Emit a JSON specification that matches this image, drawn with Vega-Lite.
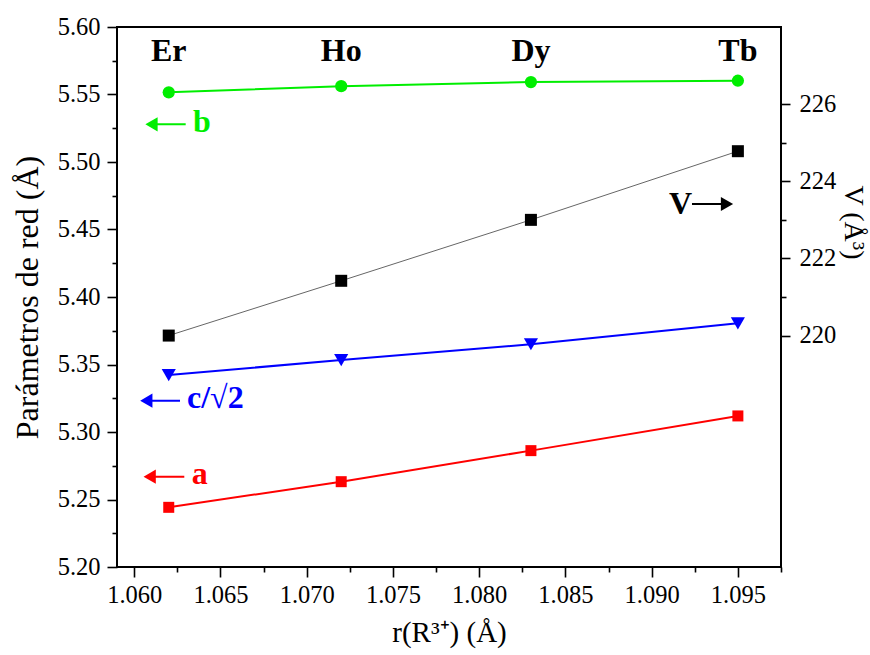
{
  "$schema": "https://vega.github.io/schema/vega-lite/v6.json",
  "autosize": "none",
  "width": 664,
  "height": 540,
  "padding": {"left": 117, "top": 27, "right": 89, "bottom": 88},
  "background": "white",
  "config": {
    "view": {"stroke": "black", "strokeWidth": 2},
    "style": {"guide-label": {"font": "Liberation Serif", "fontSize": 24.5, "fill": "black"}, "guide-title": {"font": "Liberation Serif", "fontWeight": "normal", "fill": "black"}},
    "axis": {
      "domain": false,
      "grid": false,
      "tickColor": "black",
      "tickWidth": 1.6,
      "labelFont": "Liberation Serif",
      "labelFontSize": 24.5,
      "labelColor": "black",
      "labelFlush": false,
      "labelOverlap": false,
      "labelBound": false,
      "titleFont": "Liberation Serif",
      "titleFontSize": 29,
      "titleFontWeight": "normal",
      "titleColor": "black"
    }
  },
  "datasets": {
    "lattice": [
      {"ion": "Er", "r": 1.062, "a": 5.2442, "b": 5.5516, "c": 5.3422, "V": 220.0},
      {"ion": "Ho", "r": 1.072, "a": 5.2632, "b": 5.5562, "c": 5.3533, "V": 221.42},
      {"ion": "Dy", "r": 1.083, "a": 5.2862, "b": 5.5592, "c": 5.3650, "V": 223.0},
      {"ion": "Tb", "r": 1.095, "a": 5.3119, "b": 5.5602, "c": 5.3805, "V": 224.78}
    ],
    "arrows": [
      {"name": "b", "label": "b", "x_tail": 1.062983, "x_head": 1.061000, "y": 5.5279, "xl": 1.063407, "yl": 5.5222},
      {"name": "c", "label": "c/√2", "x_tail": 1.062653, "x_head": 1.060699, "y": 5.3232, "xl": 1.063059, "yl": 5.3178},
      {"name": "a", "label": "a", "x_tail": 1.062902, "x_head": 1.060896, "y": 5.2669, "xl": 1.063331, "yl": 5.2615},
      {"name": "V", "label": "V", "x_tail": 1.092339, "x_head": 1.094369, "y": 5.4689, "xl": 1.091006, "yl": 5.4617}
    ]
  },
  "layer": [
    {
      "data": {"name": "lattice"},
      "mark": {"type": "line", "color": "#ff0000", "strokeWidth": 2},
      "encoding": {
        "x": {"field": "r", "type": "quantitative",
              "scale": {"domain": [1.059, 1.0975], "nice": false, "zero": false},
              "axis": {"orient": "bottom", "values": [1.06, 1.065, 1.07, 1.075, 1.08, 1.085, 1.09, 1.095], "format": ".3f", "tickSize": 10, "labelPadding": 6, "labelFont": "Liberation Serif", "labelFontSize": 24.5, "title": "r(R³⁺) (Å)", "titleFont": "Liberation Serif", "titleFontSize": 29, "titlePadding": 12}},
        "y": {"field": "a", "type": "quantitative",
              "scale": {"domain": [5.2, 5.6], "nice": false, "zero": false},
              "axis": {"orient": "left", "values": [5.2, 5.25, 5.3, 5.35, 5.4, 5.45, 5.5, 5.55, 5.6], "format": ".2f", "tickSize": 10, "labelPadding": 7, "labelFont": "Liberation Serif", "labelFontSize": 24.5, "title": "Parámetros de red (Å)", "titleFont": "Liberation Serif", "titleFontSize": 32, "titlePadding": 13}}
      }
    },
    {
      "data": {"name": "lattice"},
      "mark": {"type": "point", "opacity": 0},
      "encoding": {
        "x": {"field": "r", "type": "quantitative",
              "axis": {"orient": "bottom", "values": [1.0625, 1.0675, 1.0725, 1.0775, 1.0825, 1.0875, 1.0925, 1.0975], "labels": false, "tickSize": 5, "title": null}},
        "y": {"field": "a", "type": "quantitative",
              "scale": {"domain": [5.2, 5.6], "nice": false, "zero": false},
              "axis": {"orient": "left", "values": [5.225, 5.275, 5.325, 5.375, 5.425, 5.475, 5.525, 5.575], "labels": false, "tickSize": 5, "title": null}}
      }
    },
    {
      "data": {"name": "lattice"},
      "mark": {"type": "line", "color": "#666666", "strokeWidth": 1},
      "encoding": {
        "x": {"field": "r", "type": "quantitative", "axis": null},
        "y": {"field": "V", "type": "quantitative",
              "scale": {"domain": [214, 228], "nice": false, "zero": false},
              "axis": {"orient": "right", "values": [220, 222, 224, 226], "format": "d", "tickSize": 9, "labelPadding": 9, "labelFont": "Liberation Serif", "labelFontSize": 24.5, "title": "V (Å³)", "titleFont": "Liberation Serif", "titleFontSize": 28, "titleAngle": 90, "titlePadding": 3, "titleY": 195}}
      }
    },
    {
      "data": {"name": "lattice"},
      "mark": {"type": "point", "opacity": 0},
      "encoding": {
        "x": {"field": "r", "type": "quantitative", "axis": null},
        "y": {"field": "V", "type": "quantitative",
              "scale": {"domain": [214, 228], "nice": false, "zero": false},
              "axis": {"orient": "right", "values": [221, 223, 225], "labels": false, "tickSize": 5, "title": null}}
      }
    },
    {
      "data": {"name": "lattice"},
      "mark": {"type": "point", "shape": "square", "filled": true, "color": "#000000", "size": 144, "opacity": 1},
      "encoding": {
        "x": {"field": "r", "type": "quantitative", "axis": null},
        "y": {"field": "V", "type": "quantitative", "axis": null,
              "scale": {"domain": [214, 228], "nice": false, "zero": false}}
      }
    },
    {
      "data": {"name": "lattice"},
      "mark": {"type": "point", "shape": "square", "filled": true, "color": "#ff0000", "size": 121, "opacity": 1},
      "encoding": {
        "x": {"field": "r", "type": "quantitative", "axis": null},
        "y": {"field": "a", "type": "quantitative", "axis": null,
              "scale": {"domain": [5.2, 5.6], "nice": false, "zero": false}}
      }
    },
    {
      "data": {"name": "lattice"},
      "mark": {"type": "line", "color": "#00ee00", "strokeWidth": 2},
      "encoding": {
        "x": {"field": "r", "type": "quantitative", "axis": null},
        "y": {"field": "b", "type": "quantitative", "axis": null,
              "scale": {"domain": [5.2, 5.6], "nice": false, "zero": false}}
      }
    },
    {
      "data": {"name": "lattice"},
      "mark": {"type": "point", "shape": "circle", "filled": true, "color": "#00ee00", "size": 150, "opacity": 1},
      "encoding": {
        "x": {"field": "r", "type": "quantitative", "axis": null},
        "y": {"field": "b", "type": "quantitative", "axis": null,
              "scale": {"domain": [5.2, 5.6], "nice": false, "zero": false}}
      }
    },
    {
      "data": {"name": "lattice"},
      "mark": {"type": "line", "color": "#0000ff", "strokeWidth": 2},
      "encoding": {
        "x": {"field": "r", "type": "quantitative", "axis": null},
        "y": {"field": "c", "type": "quantitative", "axis": null,
              "scale": {"domain": [5.2, 5.6], "nice": false, "zero": false}}
      }
    },
    {
      "data": {"name": "lattice"},
      "mark": {"type": "point", "shape": "triangle-down", "filled": true, "color": "#0000ff", "size": 200, "opacity": 1},
      "encoding": {
        "x": {"field": "r", "type": "quantitative", "axis": null},
        "y": {"field": "c", "type": "quantitative", "axis": null,
              "scale": {"domain": [5.2, 5.6], "nice": false, "zero": false}}
      }
    },
    {
      "data": {"name": "lattice"},
      "mark": {"type": "text", "font": "Liberation Serif", "fontWeight": "bold", "fontSize": 32, "color": "black", "align": "center", "baseline": "alphabetic"},
      "encoding": {
        "x": {"field": "r", "type": "quantitative", "axis": null},
        "y": {"datum": 5.575, "type": "quantitative", "axis": null,
              "scale": {"domain": [5.2, 5.6], "nice": false, "zero": false}},
        "text": {"field": "ion"}
      }
    },
    {
      "data": {"name": "arrows"},
      "mark": {"type": "rule", "strokeWidth": 2},
      "encoding": {
        "x": {"field": "x_tail", "type": "quantitative", "axis": null},
        "x2": {"field": "x_head"},
        "y": {"field": "y", "type": "quantitative", "axis": null,
              "scale": {"domain": [5.2, 5.6], "nice": false, "zero": false}},
        "color": {"field": "name", "type": "nominal", "legend": null,
                  "scale": {"domain": ["a", "b", "c", "V"], "range": ["#ff0000", "#00ee00", "#0000ff", "#000000"]}}
      }
    },
    {
      "data": {"name": "arrows"},
      "mark": {"type": "point", "filled": true, "size": 200, "opacity": 1},
      "encoding": {
        "x": {"field": "x_head", "type": "quantitative", "axis": null},
        "y": {"field": "y", "type": "quantitative", "axis": null,
              "scale": {"domain": [5.2, 5.6], "nice": false, "zero": false}},
        "color": {"field": "name", "type": "nominal", "legend": null},
        "shape": {"field": "name", "type": "nominal", "legend": null,
                  "scale": {"domain": ["a", "b", "c", "V"], "range": ["triangle-left", "triangle-left", "triangle-left", "triangle-right"]}}
      }
    },
    {
      "data": {"name": "arrows"},
      "mark": {"type": "text", "font": "Liberation Serif", "fontWeight": "bold", "fontSize": 32, "align": "left", "baseline": "alphabetic"},
      "encoding": {
        "x": {"field": "xl", "type": "quantitative", "axis": null},
        "y": {"field": "yl", "type": "quantitative", "axis": null,
              "scale": {"domain": [5.2, 5.6], "nice": false, "zero": false}},
        "color": {"field": "name", "type": "nominal", "legend": null},
        "text": {"field": "label"}
      }
    }
  ],
  "resolve": {"scale": {"y": "independent"}, "axis": {"x": "independent", "y": "independent"}}
}
